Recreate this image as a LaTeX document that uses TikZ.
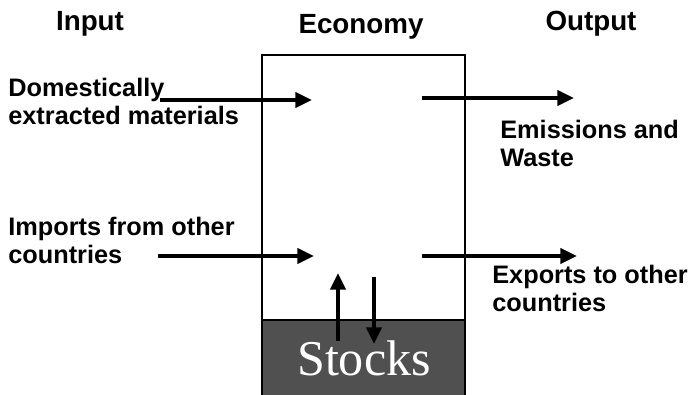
\documentclass[tikz,border=0pt]{standalone}
\usepackage{fontspec}
\setmainfont{Liberation Sans}
\newfontfamily\stockfont{Liberation Serif}
\usetikzlibrary{arrows.meta}
\definecolor{stockgray}{RGB}{80,80,80}
\tikzset{
    flow/.style={line width=2.5pt, -{Triangle[length=9.5pt,width=8.5pt]}},
    wall/.style={line width=1.7pt},
    label/.style={font=\bfseries\fontsize{14.4}{16}\selectfont, align=left, inner sep=0pt, anchor=north west},
    heading/.style={font=\bfseries\fontsize{15.8}{18}\selectfont, inner sep=0pt}
}
\begin{document}
\begin{tikzpicture}[x=0.02cm, y=-0.02cm]
    \useasboundingbox (0,0) rectangle (691,395);
    % headings
    \node[heading] (input) at (90,24) {Input};
    \node[heading] (economy) at (361,27) {Economy};
    \node[heading] (output) at (591,24) {Output};
    % economy box and stocks
    \fill[stockgray] (262,320) rectangle (465,395);
    \draw[wall] (262,395)--(262,55)--(465,55)--(465,395);
    \draw[wall] (262,320)--(465,320);
    \node[font=\stockfont\fontsize{28.5}{30}\selectfont, text=white, inner sep=0pt] (stocks) at (364,358) {Stocks};
    % labels
    \node[label] (domestic) at (8,78) {Domestically\\extracted materials};
    \node[label] (imports) at (8,217) {Imports from other\\countries};
    \node[label] (emissions) at (500,120) {Emissions and\\Waste};
    \node[label] (exports) at (492,265) {Exports to other\\countries};
    % flow ends
    \coordinate (d1) at (160,100);
    \coordinate (d2) at (312,100);
    \coordinate (e1) at (422,98);
    \coordinate (e2) at (574,98);
    \coordinate (i1) at (158,256);
    \coordinate (i2) at (314,256);
    \coordinate (x1) at (422,256);
    \coordinate (x2) at (577,256);
    \coordinate (u1) at (338,341);
    \coordinate (u2) at (338,273);
    \coordinate (s1) at (374,277);
    \coordinate (s2) at (374,344);
    \draw[flow] (d1)--(d2);
    \draw[flow] (e1)--(e2);
    \draw[flow] (i1)--(i2);
    \draw[flow] (x1)--(x2);
    \draw[flow] (u1)--(u2);
    \draw[flow] (s1)--(s2);
\end{tikzpicture}
\end{document}
